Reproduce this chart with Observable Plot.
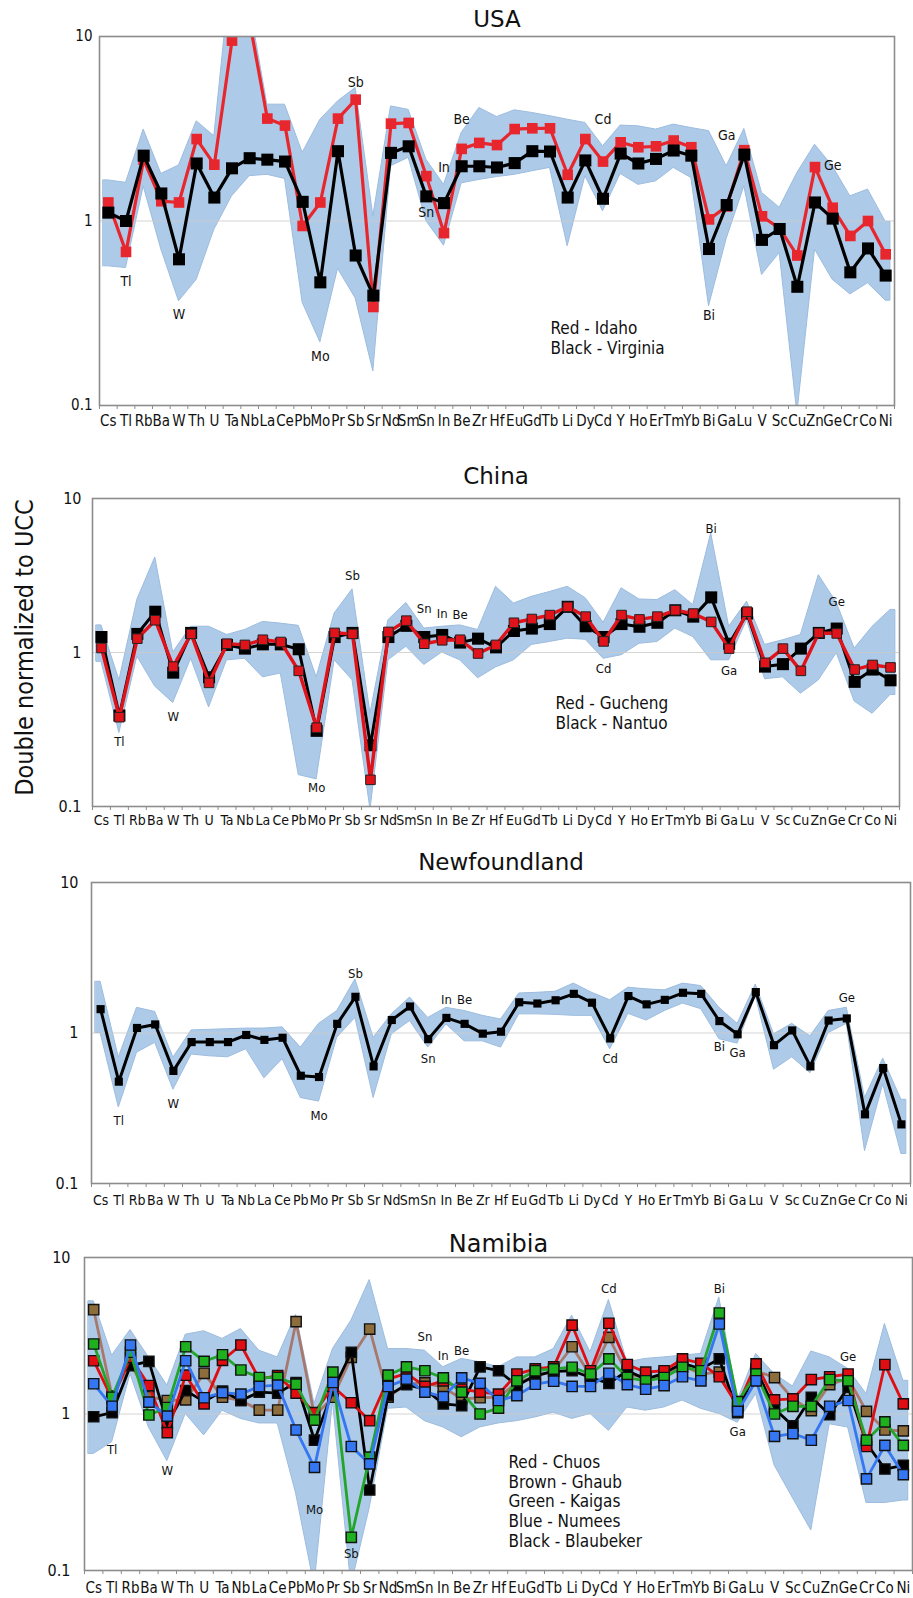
<!DOCTYPE html>
<html>
<head>
<meta charset="utf-8">
<script src="https://cdn.jsdelivr.net/npm/d3@7"></script>
<script src="https://cdn.jsdelivr.net/npm/@observablehq/plot@0.6"></script>
<style>
  html, body { margin: 0; padding: 0; background: #fff; }
  #chart { position: relative; width: 913px; height: 1598px; overflow: hidden; background: #fff; }
  #chart svg { position: absolute; left: 0; overflow: visible; }
</style>
</head>
<body>
<div id="chart"></div>
<script>
// Element order along the x axis (shared by all four panels)
const elements = ["Cs","Tl","Rb","Ba","W","Th","U","Ta","Nb","La","Ce","Pb","Mo","Pr","Sb","Sr","Nd","Sm","Sn","In","Be","Zr","Hf","Eu","Gd","Tb","Li","Dy","Cd","Y","Ho","Er","Tm","Yb","Bi","Ga","Lu","V","Sc","Cu","Zn","Ge","Cr","Co","Ni"];
const yTicks = [0.1, 1, 10];

// ---- USA ----
const usaIdaho = [1.26,0.68,2.15,1.28,1.26,2.78,2.02,9.5,12,3.59,3.29,0.94,1.26,3.59,4.55,0.342,3.37,3.4,1.75,0.86,2.46,2.65,2.58,3.15,3.18,3.18,1.78,2.78,2.1,2.67,2.51,2.54,2.73,2.51,1.02,1.2,2.42,1.06,0.91,0.65,1.96,1.18,0.83,1.0,0.66];
const usaVirginia = [1.11,1.0,2.26,1.41,0.62,2.05,1.34,1.93,2.19,2.15,2.1,1.27,0.465,2.39,0.65,0.394,2.34,2.54,1.36,1.25,1.98,1.98,1.95,2.06,2.39,2.38,1.34,2.13,1.32,2.32,2.05,2.17,2.41,2.26,0.705,1.22,2.29,0.79,0.905,0.44,1.26,1.03,0.527,0.71,0.506];
const usaUpper = [1.66,1.61,3.13,1.8,2.0,3.47,2.88,25,15,4.27,4.27,2.34,3.54,4.45,5.26,1.06,4.18,4.0,2.15,1.57,3.0,4.1,3.66,3.98,3.85,3.7,3.54,3.4,2.54,3.29,3.26,3.13,3.33,3.19,3.07,1.98,3.15,1.42,1.18,1.82,2.59,1.98,1.36,1.48,0.99];
const usaLower = [0.568,0.556,1.54,0.7,0.367,0.48,0.897,1.36,1.75,1.78,1.69,0.36,0.22,0.55,0.38,0.153,1.98,2.2,1.0,0.735,1.6,1.67,1.73,1.78,1.86,1.94,0.73,1.75,1.13,1.8,1.57,1.64,1.94,1.71,0.345,0.8,1.54,0.51,0.67,0.09,0.7,0.48,0.4,0.46,0.37];
const usaLabels = [["Tl",0.47],["W",0.31],["Mo",0.185],["Sb",5.6],["Sn",1.11],["In",1.94],["Be",3.57],["Cd",3.54],["Ga",2.9],["Bi",0.307],["Ge",2.0]];
const usaKey = ["Red - Idaho", "Black - Virginia"];

// ---- China ----
const chinaGucheng = [1.07,0.38,1.23,1.62,0.81,1.32,0.635,1.14,1.12,1.21,1.17,0.76,0.325,1.34,1.32,0.149,1.36,1.61,1.14,1.2,1.21,0.985,1.12,1.56,1.65,1.75,1.98,1.71,1.18,1.75,1.64,1.71,1.88,1.79,1.58,1.06,1.84,0.857,1.06,0.76,1.34,1.33,0.775,0.83,0.8];
const chinaNantuo = [1.26,0.39,1.32,1.84,0.74,1.34,0.69,1.12,1.06,1.13,1.13,1.05,0.31,1.26,1.34,0.25,1.26,1.49,1.26,1.3,1.16,1.23,1.08,1.38,1.43,1.53,1.98,1.48,1.26,1.53,1.47,1.56,1.88,1.71,2.28,1.14,1.79,0.81,0.84,1.06,1.34,1.43,0.645,0.775,0.66];
const chinaUpper = [1.5,0.66,2.2,4.14,1.0,1.47,1.47,1.3,1.4,1.58,1.54,1.49,0.69,1.79,2.57,0.4,1.62,2.1,1.43,1.47,1.5,1.4,2.67,2.08,2.3,2.47,2.67,2.25,1.56,2.61,2.21,2.19,2.54,2.03,5.94,1.47,2.14,1.12,1.2,1.3,3.18,2.1,1.06,1.47,1.89];
const chinaLower = [0.87,0.3,0.94,0.6,0.47,0.91,0.44,0.89,0.91,0.69,0.73,0.16,0.15,0.89,0.66,0.095,0.89,1.09,0.83,1.0,0.89,0.68,0.8,0.89,1.12,1.17,1.23,1.21,0.91,0.96,1.14,1.17,1.43,1.26,0.89,0.89,1.62,0.67,0.69,0.54,0.66,0.99,0.48,0.4,0.53];
const chinaLabels = [["Tl",0.262],["W",0.385],["Mo",0.133],["Sb",3.13],["Sn",1.91],["In",1.77],["Be",1.76],["Cd",0.787],["Bi",6.33],["Ga",0.76],["Ge",2.12]];
const chinaKey = ["Red - Gucheng", "Black - Nantuo"];

// ---- Newfoundland ----
const nfMean = [1.44,0.475,1.08,1.14,0.56,0.87,0.87,0.87,0.97,0.9,0.93,0.52,0.51,1.15,1.74,0.6,1.22,1.5,0.91,1.26,1.15,0.99,1.02,1.6,1.57,1.65,1.82,1.59,0.92,1.76,1.55,1.66,1.85,1.82,1.2,0.98,1.87,0.83,1.04,0.6,1.21,1.25,0.288,0.585,0.247];
const nfUpper = [2.19,0.686,1.47,1.38,0.686,1.04,1.05,1.06,1.07,1.07,1.09,0.8,1.15,1.4,2.27,0.93,1.33,1.72,1.26,1.47,1.4,1.3,1.23,1.83,1.85,1.88,2.13,1.85,1.65,2.0,1.95,1.92,2.13,2.05,1.47,1.15,2.1,0.98,1.15,0.95,1.4,1.47,0.37,0.675,0.36];
const nfLower = [1.0,0.32,0.74,0.86,0.42,0.72,0.7,0.69,0.78,0.5,0.67,0.37,0.35,0.93,1.26,0.37,0.98,1.2,0.8,1.14,0.88,0.88,0.8,1.33,1.33,1.32,1.3,1.3,0.78,1.34,1.21,1.4,1.57,1.44,0.91,0.85,1.76,0.57,0.69,0.54,1.0,1.15,0.164,0.456,0.157];
const nfLabels = [["Tl",0.26],["W",0.339],["Mo",0.281],["Sb",2.49],["Sn",0.675],["In",1.66],["Be",1.66],["Cd",0.675],["Bi",0.81],["Ga",0.74],["Ge",1.72]];

// ---- Namibia ----
const namChuos = [2.19,1.25,2.3,1.52,0.76,1.77,1.16,2.2,2.76,1.67,1.76,1.36,1.02,1.5,1.18,0.906,1.67,1.82,1.5,1.63,1.44,1.38,1.34,1.8,1.94,2.0,3.7,1.89,3.8,2.07,1.85,1.89,2.25,2.11,1.73,1.13,2.09,1.23,1.25,1.66,1.73,1.8,0.62,2.07,1.16];
const namGhaub = [4.64,1.3,2.09,1.29,1.22,1.23,1.82,1.28,1.22,1.06,1.06,3.89,0.97,1.28,2.3,3.49,1.28,1.55,1.58,1.48,1.25,1.27,1.28,1.59,1.73,1.89,2.69,1.76,3.09,1.8,1.71,1.71,2.04,1.8,1.85,1.1,1.89,1.71,1.25,1.05,1.54,1.69,1.04,0.79,0.78];
const namKaigas = [2.8,1.28,2.48,0.985,1.1,2.69,2.17,2.39,1.91,1.71,1.71,1.55,0.915,1.85,0.163,0.53,1.77,2.0,1.89,1.7,1.38,1.0,1.09,1.63,1.89,1.94,1.99,1.8,2.25,1.71,1.63,1.71,1.99,1.89,4.42,1.2,1.8,1.0,1.12,1.12,1.66,1.63,0.68,0.89,0.63];
const namNumees = [1.56,1.12,2.76,1.19,0.97,2.19,1.27,1.37,1.34,1.5,1.53,0.79,0.456,1.59,0.62,0.48,1.5,1.67,1.38,1.29,1.7,1.57,1.22,1.31,1.55,1.62,1.5,1.5,1.82,1.54,1.44,1.52,1.73,1.63,3.76,1.04,1.63,0.72,0.75,0.68,1.12,1.22,0.385,0.63,0.41];
const namBlaubeker = [0.96,1.02,2.04,2.17,0.87,1.41,1.2,1.4,1.22,1.38,1.36,1.59,0.68,1.41,2.48,0.327,1.31,1.54,1.44,1.16,1.13,2.0,1.89,1.52,1.76,1.87,1.89,1.71,1.57,1.89,1.67,1.82,2.11,1.94,2.25,1.02,1.94,1.08,0.84,1.28,0.99,1.48,0.65,0.445,0.47];
const namUpper = [5.25,2.36,3.44,2.3,1.52,3.21,3.38,3.02,3.49,2.54,2.3,4.31,1.16,2.6,3.94,7.18,2.6,2.6,2.54,1.99,2.25,2.14,1.99,2.3,2.3,2.6,4.25,2.48,5.35,2.14,2.25,2.3,2.36,2.42,5.56,1.22,2.42,1.8,1.5,2.51,2.3,1.94,1.34,3.76,1.63];
const namLower = [0.555,0.66,1.8,0.82,0.5,1.0,0.73,1.05,0.93,0.87,0.87,0.31,0.08,1.2,0.08,0.25,1.08,1.1,0.9,0.82,0.71,0.82,0.87,0.9,0.95,1.02,0.93,1.0,0.78,1.1,1.05,1.1,1.22,1.08,1.0,0.88,1.34,0.47,0.29,0.18,0.86,0.82,0.27,0.27,0.28];
const namLabels = [["Tl",0.589],["W",0.434],["Mo",0.244],["Sb",0.127],["Sn",3.09],["In",2.36],["Be",2.54],["Cd",6.35],["Bi",6.35],["Ga",0.774],["Ge",2.32]];
const namKey = ["Red - Chuos", "Brown - Ghaub", "Green - Kaigas", "Blue - Numees", "Black - Blaubeker"];

const yTitle = "Double normalized to UCC";

// ---- drawing ----
const TEXT_FONT = '"Liberation Sans Narrow", "DejaVu Sans Condensed", "Open Sans", sans-serif';
const TITLE_FONT = '"DejaVu Sans", Verdana, sans-serif';
const BAND_FILL = "#adcbe8";
const BAND_EDGE = "#9dbcdf";
const FRAME = "#8c8c8c";

function panel(p) {
  const n = elements.length;
  // min–max band, carried a little past the outermost elements
  const band = elements.map((el, i) => ({x: i, lo: p.lower[i], hi: p.upper[i]}));
  band.unshift({x: -0.27, lo: p.lower[0], hi: p.upper[0]});
  band.push({x: n - 1 + 0.27, lo: p.lower[n - 1], hi: p.upper[n - 1]});

  const marks = [
    Plot.areaY(band, {x: "x", y1: "lo", y2: "hi", fill: BAND_FILL, stroke: BAND_EDGE, strokeWidth: 1, curve: "linear", clip: true}),
    Plot.ruleY([1], {stroke: "#c9c9c9", strokeOpacity: 0.8, strokeWidth: 1})
  ];

  for (const s of p.series) {
    const pts = s.values.map((v, i) => ({x: i, v}));
    marks.push(Plot.line(pts, {x: "x", y: "v", stroke: s.line, strokeWidth: s.lw, clip: true}));
    marks.push(Plot.dot(pts, {x: "x", y: "v", symbol: "square", r: s.r, fill: s.fill,
      stroke: s.edge || "none", strokeWidth: s.edgeWidth || 0, clip: true}));
  }

  marks.push(
    Plot.frame({stroke: FRAME, strokeWidth: 1.6}),
    Plot.axisY(yTicks, {tickSize: 0, tickPadding: p.yPad, tickFormat: d => String(d), fontSize: p.yFont, label: null}),
    Plot.axisX(d3.range(n), {tickSize: 0, tickPadding: p.xPad, tickFormat: i => elements[i], fontSize: p.xFont, label: null}),
    Plot.axisX(d3.range(n + 1).map(k => k - 0.5), {tickSize: 4, tickFormat: () => "", stroke: FRAME, label: null}),
    Plot.text(p.labels, {x: d => elements.indexOf(d[0]), y: d => d[1], text: d => d[0], fontSize: p.labelFont, fill: "#111"}),
    Plot.text([p.title], {frameAnchor: "top", dy: p.titleDy, lineAnchor: "top", fontSize: p.titleFont, fontFamily: TITLE_FONT, fill: "#111"})
  );

  if (p.key) {
    marks.push(Plot.text([p.key.join("\n")], {frameAnchor: "top-left", dx: p.keyDx, dy: p.keyDy, textAnchor: "start",
      lineAnchor: "top", fontSize: p.keyFont, lineHeight: p.keyLine, fill: "#111"}));
  }
  if (p.showYTitle) {
    marks.push(Plot.text([yTitle], {frameAnchor: "left", dx: -68, dy: -5, rotate: -90, textAnchor: "middle",
      lineAnchor: "middle", fontSize: 25, fill: "#111"}));
  }

  const svg = Plot.plot({
    width: 913,
    height: p.height,
    marginTop: p.mt, marginBottom: p.mb, marginLeft: p.ml, marginRight: p.mr,
    x: {type: "linear", domain: [-0.5, n - 0.5]},
    y: {type: "log", domain: [0.1, 10]},
    style: {fontFamily: TEXT_FONT, fontSize: "14px", color: "#111", background: "transparent", overflow: "visible"},
    marks
  });
  svg.style.top = p.top + "px";
  document.getElementById("chart").appendChild(svg);
}

const RED = "#e8262e";

panel({
  title: "USA", top: 0, height: 432, mt: 36, mb: 27, ml: 99, mr: 19,
  upper: usaUpper, lower: usaLower, labels: usaLabels,
  series: [
    {values: usaIdaho, line: RED, fill: RED, lw: 3.2, r: 6.0},
    {values: usaVirginia, line: "#000", fill: "#000", lw: 3.2, r: 6.8}
  ],
  yPad: 7, yFont: 15, xPad: 10, xFont: 15, labelFont: 14, titleFont: 23, titleDy: -26,
  key: usaKey, keyDx: 451, keyDy: 283, keyFont: 17, keyLine: 1.18
});

panel({
  title: "China", top: 440, height: 395, mt: 58, mb: 29, ml: 92, mr: 14,
  upper: chinaUpper, lower: chinaLower, labels: chinaLabels,
  series: [
    {values: chinaNantuo, line: "#000", fill: "#000", lw: 3, r: 6.8},
    {values: chinaGucheng, line: "#e0121a", fill: "#e0121a", lw: 3.4, r: 5.4, edge: "#222", edgeWidth: 1}
  ],
  yPad: 11, yFont: 16, xPad: 9, xFont: 14, labelFont: 13, titleFont: 23, titleDy: -31,
  key: chinaKey, keyDx: 463, keyDy: 196, keyFont: 17, keyLine: 1.18, showYTitle: true
});

panel({
  title: "Newfoundland", top: 835, height: 380, mt: 47, mb: 32, ml: 91, mr: 3,
  upper: nfUpper, lower: nfLower, labels: nfLabels,
  series: [
    {values: nfMean, line: "#000", fill: "#000", lw: 3, r: 4.6}
  ],
  yPad: 13, yFont: 16, xPad: 12, xFont: 14, labelFont: 13, titleFont: 23, titleDy: -29
});

panel({
  title: "Namibia", top: 1215, height: 383, mt: 42, mb: 28, ml: 84, mr: 1,
  upper: namUpper, lower: namLower, labels: namLabels,
  series: [
    {values: namGhaub, line: "#a8786d", fill: "#8e6d3c", lw: 2.8, r: 5.8, edge: "#111", edgeWidth: 1.4},
    {values: namBlaubeker, line: "#000", fill: "#000", lw: 2.8, r: 5.8, edge: "#111", edgeWidth: 1.4},
    {values: namChuos, line: "#e00d12", fill: "#e00d12", lw: 2.8, r: 5.8, edge: "#111", edgeWidth: 1.4},
    {values: namKaigas, line: "#22a52a", fill: "#1fb01f", lw: 2.8, r: 5.8, edge: "#111", edgeWidth: 1.4},
    {values: namNumees, line: "#3576f2", fill: "#3576f2", lw: 2.8, r: 5.8, edge: "#111", edgeWidth: 1.4}
  ],
  yPad: 14, yFont: 16, xPad: 12, xFont: 15, labelFont: 13, titleFont: 24, titleDy: -23,
  key: namKey, keyDx: 424, keyDy: 196, keyFont: 17, keyLine: 1.17
});
</script>
</body>
</html>
